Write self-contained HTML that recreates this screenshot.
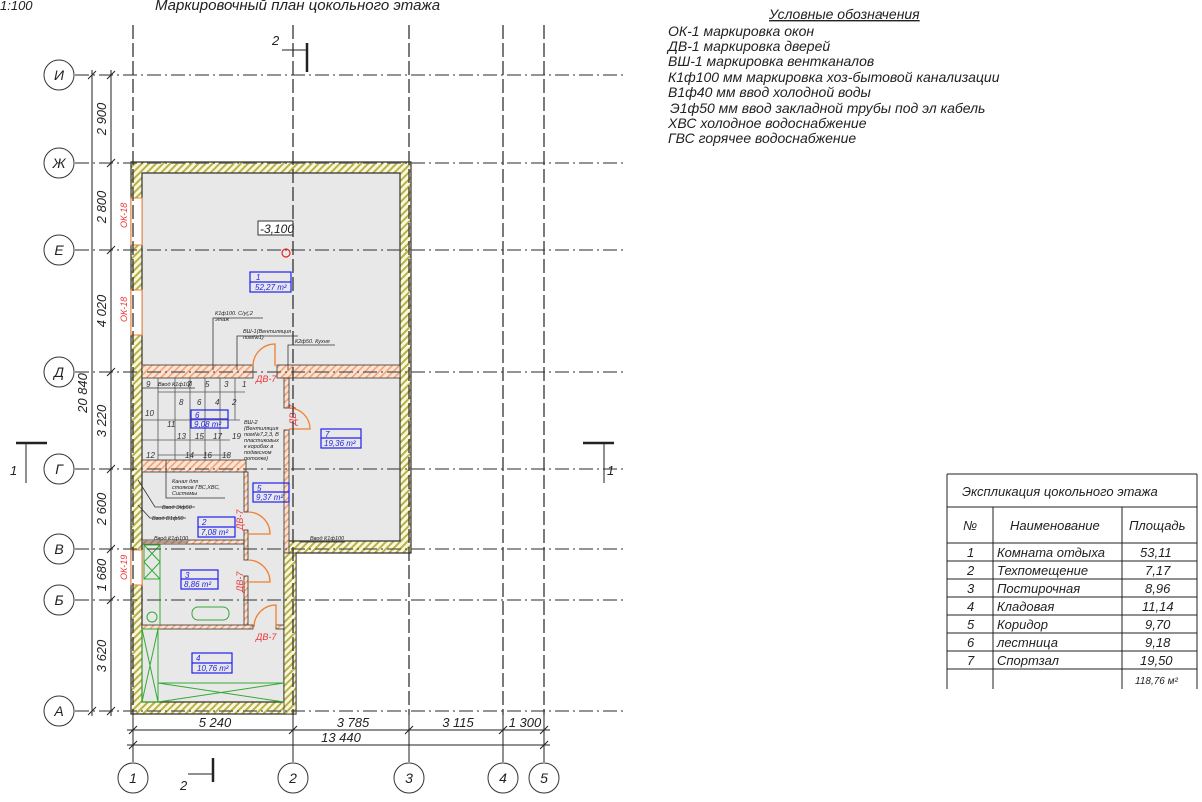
<!DOCTYPE html>
<html><head><meta charset="utf-8"><style>
html,body{margin:0;padding:0;background:#fff;}
svg{display:block;font-family:"Liberation Sans",sans-serif;}
</style></head><body>
<svg width="1202" height="802" viewBox="0 0 1202 802" xmlns="http://www.w3.org/2000/svg">
<defs>
<pattern id="hy" width="5" height="5" patternUnits="userSpaceOnUse" patternTransform="rotate(45)">
<rect width="5" height="5" fill="#fbf8dc"/><rect width="2" height="5" fill="#b7b24a"/></pattern>
<pattern id="ho" width="5" height="5" patternUnits="userSpaceOnUse" patternTransform="rotate(45)">
<rect width="5" height="5" fill="#fde3d3"/><rect width="1.6" height="5" fill="#f0a478"/></pattern>
</defs>
<rect width="1202" height="802" fill="#fff"/>

<!-- titles -->
<g font-style="italic" fill="#222">
<text x="0" y="10" font-size="13">1:100</text>
<text x="155" y="10" font-size="15">Маркировочный план цокольного этажа</text>
</g>

<!-- building fill -->
<path d="M131 162 H411 V553 H296 V714 H131 Z" fill="url(#hy)" stroke="#333" stroke-width="1.2"/>
<path d="M142 173 H400 V541 H284 V702 H142 Z" fill="#e8e8e8" stroke="#333" stroke-width="1.2"/>
<!-- windows -->
<rect x="131" y="198" width="11" height="47" fill="#fff" stroke="#f08030" stroke-width="1"/>
<rect x="131" y="290" width="11" height="45" fill="#fff" stroke="#f08030" stroke-width="1"/>
<rect x="131" y="550" width="11" height="35" fill="#fff" stroke="#f08030" stroke-width="1"/>
<g fill="#e33" font-size="9" font-style="italic">
<text transform="translate(127,228) rotate(-90)">ОК-18</text>
<text transform="translate(127,322) rotate(-90)">ОК-18</text>
<text transform="translate(127,580) rotate(-90)">ОК-19</text>
</g>

<!-- interior walls -->
<g stroke="#333" stroke-width="0.8">
<rect x="142" y="365" width="111" height="13" fill="url(#ho)"/>
<rect x="277" y="365" width="123" height="13" fill="url(#ho)"/>
<rect x="142" y="460" width="104" height="12" fill="url(#ho)"/>
<rect x="244" y="472" width="4" height="40" fill="url(#ho)"/>
<rect x="244" y="530" width="4" height="30" fill="url(#ho)"/>
<rect x="244" y="576" width="4" height="52" fill="url(#ho)"/>
<rect x="142" y="540" width="102" height="4" fill="url(#ho)"/>
<rect x="142" y="625" width="111" height="4" fill="url(#ho)"/>
<rect x="276" y="625" width="8" height="4" fill="url(#ho)"/>
<rect x="284" y="378" width="5" height="30" fill="url(#ho)"/>
<rect x="284" y="430" width="5" height="123" fill="url(#ho)"/>
<rect x="284" y="553" width="12" height="161" fill="url(#hy)"/>
</g>

<!-- stairs -->
<g stroke="#555" stroke-width="0.8" fill="none">
<path d="M158 378 V460 M175 378 V460 M190 378 V460 M205 378 V460 M220 378 V460 M235 378 V420"/>
<path d="M158 392 H245 M142 420 H240 M142 440 H230 M158 455 H230"/>
</g>
<g font-size="8" font-style="italic" fill="#333">
<text x="146" y="387">9</text><text x="187" y="387">7</text><text x="205" y="387">5</text><text x="224" y="387">3</text><text x="242" y="387">1</text>
<text x="179" y="405">8</text><text x="197" y="405">6</text><text x="215" y="405">4</text><text x="232" y="405">2</text>
<text x="145" y="416">10</text><text x="167" y="427">11</text><text x="177" y="439">13</text><text x="195" y="439">15</text><text x="213" y="439">17</text><text x="232" y="439">19</text>
<text x="146" y="458">12</text><text x="185" y="458">14</text><text x="203" y="458">16</text><text x="222" y="458">18</text>
</g>

<!-- doors -->
<g stroke="#f08030" stroke-width="1.3" fill="none">
<path d="M253 366 A22 22 0 0 1 275 344 V366"/>
<path d="M289 408 A21 21 0 0 1 310 429 H289"/>
<path d="M248 512 A22 22 0 0 1 270 534 H248"/>
<path d="M248 560 A22 22 0 0 1 270 582 H248"/>
<path d="M254 627 A22 22 0 0 1 276 605 V627"/>
</g>
<g fill="#e33" font-size="9" font-style="italic">
<text x="256" y="382">ДВ-7</text>
<text transform="translate(296,425) rotate(-90)">ДВ-7</text>
<text transform="translate(243,530) rotate(-90)">ДВ-7</text>
<text transform="translate(243,592) rotate(-90)">ДВ-7</text>
<text x="256" y="640">ДВ-7</text>
</g>

<!-- green fixtures -->
<g stroke="#3a3" stroke-width="1" fill="none">
<rect x="144" y="545" width="16" height="34"/><path d="M144 545 L160 562 M160 545 L144 562 M144 562 L160 579 M160 562 L144 579"/>
<rect x="192" y="607" width="37" height="13" rx="6"/>
<circle cx="152" cy="617" r="5"/>
<path d="M160 545 V625"/>
<rect x="142" y="629" width="16" height="73"/><path d="M142 629 L158 702 M158 629 L142 702"/>
<path d="M158 683 H284 M158 702 L284 683 M158 683 L284 702"/>
</g>

<!-- room labels -->
<g stroke="#2222ee" stroke-width="1.2" fill="none">
<rect x="250" y="272" width="41" height="20"/><line x1="250" y1="282" x2="291" y2="282"/>
<rect x="191" y="410" width="37" height="18"/><line x1="191" y1="419" x2="228" y2="419"/>
<rect x="321" y="429" width="40" height="19"/><line x1="321" y1="438" x2="361" y2="438"/>
<rect x="253" y="483" width="36" height="19"/><line x1="253" y1="492" x2="289" y2="492"/>
<rect x="198" y="517" width="37" height="20"/><line x1="198" y1="527" x2="235" y2="527"/>
<rect x="181" y="570" width="37" height="19"/><line x1="181" y1="579" x2="218" y2="579"/>
<rect x="192" y="653" width="40" height="20"/><line x1="192" y1="663" x2="232" y2="663"/>
</g>
<g fill="#2222ee" font-size="8" font-style="italic">
<text x="256" y="280">1</text><text x="255" y="290">52,27 m²</text>
<text x="195" y="418">6</text><text x="194" y="427">9,08 m²</text>
<text x="325" y="437">7</text><text x="324" y="446">19,36 m²</text>
<text x="257" y="491">5</text><text x="256" y="500">9,37 m²</text>
<text x="202" y="525">2</text><text x="201" y="535">7,08 m²</text>
<text x="185" y="578">3</text><text x="184" y="587">8,86 m²</text>
<text x="196" y="661">4</text><text x="197" y="671">10,76 m²</text>
</g>

<!-- level mark -->
<rect x="258" y="221" width="35" height="14" fill="#fff" stroke="#333"/>
<text x="260" y="233" font-size="12" font-style="italic" fill="#222">-3,100</text>
<circle cx="286" cy="253" r="4" fill="none" stroke="#e22" stroke-width="1.2"/>

<!-- leaders -->
<g stroke="#333" stroke-width="0.8" fill="none">
<path d="M213 370 V318 H263 M237 370 V336 H298 M288 370 V345 H335"/>
<path d="M142 388 H195 M142 542 H188 M300 542 H345"/>
<path d="M166 460 V498 H225"/>
<path d="M138 480 L155 507 H195 M138 505 L150 518 H186"/>
</g>
<g font-size="5.5" font-style="italic" fill="#222">
<text x="215" y="315">К1ф100. С/у(,2</text><text x="215" y="321">этаж</text>
<text x="243" y="333">ВШ-1(Вентиляция</text><text x="243" y="339">пом№1)</text>
<text x="295" y="343">К2ф50. Кухня</text>
<text x="158" y="386">Ввод К1ф100</text>
<text x="244" y="424">ВШ-2</text><text x="244" y="430">(Вентиляция</text><text x="244" y="436">пом№7,2,3, В</text><text x="244" y="442">пластиковых</text><text x="244" y="448">к коробах в</text><text x="244" y="454">подвесном</text><text x="244" y="460">потолке)</text>
<text x="172" y="483">Канал для</text><text x="172" y="489">стояков ГВС,ХВС,</text><text x="172" y="495">Системы</text>
<text x="162" y="509">Ввод Эlф50</text><text x="152" y="520">Ввод В1ф50</text>
<text x="154" y="540">Ввод К1ф100</text>
<text x="310" y="540">Ввод К1ф100</text>
</g>

<!-- grid lines -->
<g stroke="#555" stroke-width="1.3" stroke-dasharray="14 4 2 4" fill="none">
<line x1="75" y1="75" x2="625" y2="75"/>
<line x1="75" y1="163" x2="625" y2="163"/>
<line x1="75" y1="250" x2="625" y2="250"/>
<line x1="75" y1="372" x2="625" y2="372"/>
<line x1="75" y1="469" x2="625" y2="469"/>
<line x1="75" y1="549" x2="625" y2="549"/>
<line x1="75" y1="600" x2="625" y2="600"/>
<line x1="75" y1="711" x2="625" y2="711"/>
</g>
<g stroke="#333" stroke-width="1.3" stroke-dasharray="14 4" fill="none">
<line x1="133" y1="25" x2="133" y2="715"/>
<line x1="293" y1="25" x2="293" y2="715"/>
<line x1="409" y1="25" x2="409" y2="715"/>
<line x1="503" y1="25" x2="503" y2="715"/>
<line x1="544" y1="25" x2="544" y2="715"/>
</g>
<g stroke="#222" stroke-width="1">
<line x1="133" y1="715" x2="133" y2="762"/><line x1="293" y1="715" x2="293" y2="762"/>
<line x1="409" y1="715" x2="409" y2="762"/><line x1="503" y1="715" x2="503" y2="762"/><line x1="544" y1="715" x2="544" y2="762"/>
</g>

<!-- axis circles -->
<g stroke="#333" stroke-width="1" fill="#fff">
<circle cx="59" cy="75" r="15"/><circle cx="59" cy="163" r="15"/><circle cx="59" cy="250" r="15"/>
<circle cx="59" cy="372" r="15"/><circle cx="59" cy="469" r="15"/><circle cx="59" cy="549" r="15"/>
<circle cx="59" cy="600" r="15"/><circle cx="59" cy="711" r="15"/>
<circle cx="133" cy="778" r="15"/><circle cx="293" cy="778" r="15"/><circle cx="409" cy="778" r="15"/>
<circle cx="503" cy="778" r="15"/><circle cx="544" cy="778" r="15"/>
</g>
<g font-size="14" font-style="italic" fill="#222" text-anchor="middle">
<text x="59" y="80">И</text><text x="59" y="168">Ж</text><text x="59" y="255">Е</text><text x="59" y="377">Д</text>
<text x="59" y="474">Г</text><text x="59" y="554">В</text><text x="59" y="605">Б</text><text x="59" y="716">А</text>
<text x="133" y="783">1</text><text x="293" y="783">2</text><text x="409" y="783">3</text><text x="503" y="783">4</text><text x="544" y="783">5</text>
</g>

<!-- dimension lines -->
<g stroke="#222" stroke-width="1" fill="none">
<line x1="92" y1="70" x2="92" y2="716"/>
<line x1="111" y1="70" x2="111" y2="716"/>
<line x1="127" y1="730" x2="550" y2="730"/>
<line x1="127" y1="745" x2="550" y2="745"/>
<path d="M88 79 l8 -8 M88 715 l8 -8"/>
<path d="M107 79 l8 -8 M107 167 l8 -8 M107 254 l8 -8 M107 376 l8 -8 M107 473 l8 -8 M107 553 l8 -8 M107 604 l8 -8 M107 715 l8 -8"/>
<path d="M129 734 l8 -8 M289 734 l8 -8 M405 734 l8 -8 M499 734 l8 -8 M540 734 l8 -8 M129 749 l8 -8 M540 749 l8 -8"/>
</g>
<g font-size="13" font-style="italic" fill="#222" text-anchor="middle">
<text transform="translate(106,119) rotate(-90)">2 900</text>
<text transform="translate(106,207) rotate(-90)">2 800</text>
<text transform="translate(106,311) rotate(-90)">4 020</text>
<text transform="translate(106,421) rotate(-90)">3 220</text>
<text transform="translate(106,509) rotate(-90)">2 600</text>
<text transform="translate(106,575) rotate(-90)">1 680</text>
<text transform="translate(106,656) rotate(-90)">3 620</text>
<text transform="translate(87,393) rotate(-90)">20 840</text>
<text x="215" y="727">5 240</text><text x="353" y="727">3 785</text><text x="458" y="727">3 115</text><text x="525" y="727">1 300</text>
<text x="341" y="742">13 440</text>
</g>

<!-- section marks -->
<g stroke="#222" fill="none">
<path d="M307 43 V72" stroke-width="2.5"/><path d="M282 50 H307" stroke-width="1"/>
<path d="M213 758 V782" stroke-width="2.5"/><path d="M188 774 H213" stroke-width="1"/>
<path d="M16 443 H47" stroke-width="2.5"/><path d="M26 443 V483" stroke-width="1"/>
<path d="M583 443 H614" stroke-width="2.5"/><path d="M604 443 V483" stroke-width="1"/>
</g>
<g font-size="13" font-style="italic" fill="#222">
<text x="272" y="45">2</text><text x="180" y="790">2</text><text x="10" y="475">1</text><text x="607" y="475">1</text>
</g>

<!-- legend -->
<g font-size="14" font-style="italic" fill="#222">
<text x="769" y="19" text-decoration="underline">Условные обозначения</text>
<text x="668" y="36">ОК-1 маркировка окон</text>
<text x="668" y="51">ДВ-1 маркировка дверей</text>
<text x="668" y="66">ВШ-1 маркировка вентканалов</text>
<text x="668" y="82">К1ф100 мм  маркировка хоз-бытовой канализации</text>
<text x="668" y="97">В1ф40 мм ввод холодной воды</text>
<text x="670" y="113">Э1ф50 мм ввод закладной трубы под эл кабель</text>
<text x="668" y="128">ХВС холодное водоснабжение</text>
<text x="668" y="143">ГВС горячее водоснабжение</text>
</g>

<!-- table -->
<g stroke="#222" stroke-width="1" fill="none">
<path d="M947 474 H1197 M947 474 V689 M1197 474 V689 M947 507 H1197 M947 543 H1197"/>
<path d="M993 507 V689 M1122 507 V689"/>
<path d="M947 561 H1197 M947 579 H1197 M947 597 H1197 M947 615 H1197 M947 633 H1197 M947 651 H1197 M947 669 H1197"/>
</g>
<g font-size="13" font-style="italic" fill="#222">
<text x="962" y="496">Экспликация цокольного этажа</text>
<text x="963" y="530">№</text><text x="1010" y="530">Наименование</text><text x="1129" y="530">Площадь</text>
<text x="967" y="557">1</text><text x="997" y="557">Комната отдыха</text><text x="1140" y="557">53,11</text>
<text x="967" y="575">2</text><text x="997" y="575">Техпомещение</text><text x="1145" y="575">7,17</text>
<text x="967" y="593">3</text><text x="997" y="593">Постирочная</text><text x="1145" y="593">8,96</text>
<text x="967" y="611">4</text><text x="997" y="611">Кладовая</text><text x="1142" y="611">11,14</text>
<text x="967" y="629">5</text><text x="997" y="629">Коридор</text><text x="1145" y="629">9,70</text>
<text x="967" y="647">6</text><text x="997" y="647">лестница</text><text x="1145" y="647">9,18</text>
<text x="967" y="665">7</text><text x="997" y="665">Спортзал</text><text x="1140" y="665">19,50</text>
<text x="1135" y="684" font-size="10">118,76 м²</text>
</g>
</svg>
</body></html>
